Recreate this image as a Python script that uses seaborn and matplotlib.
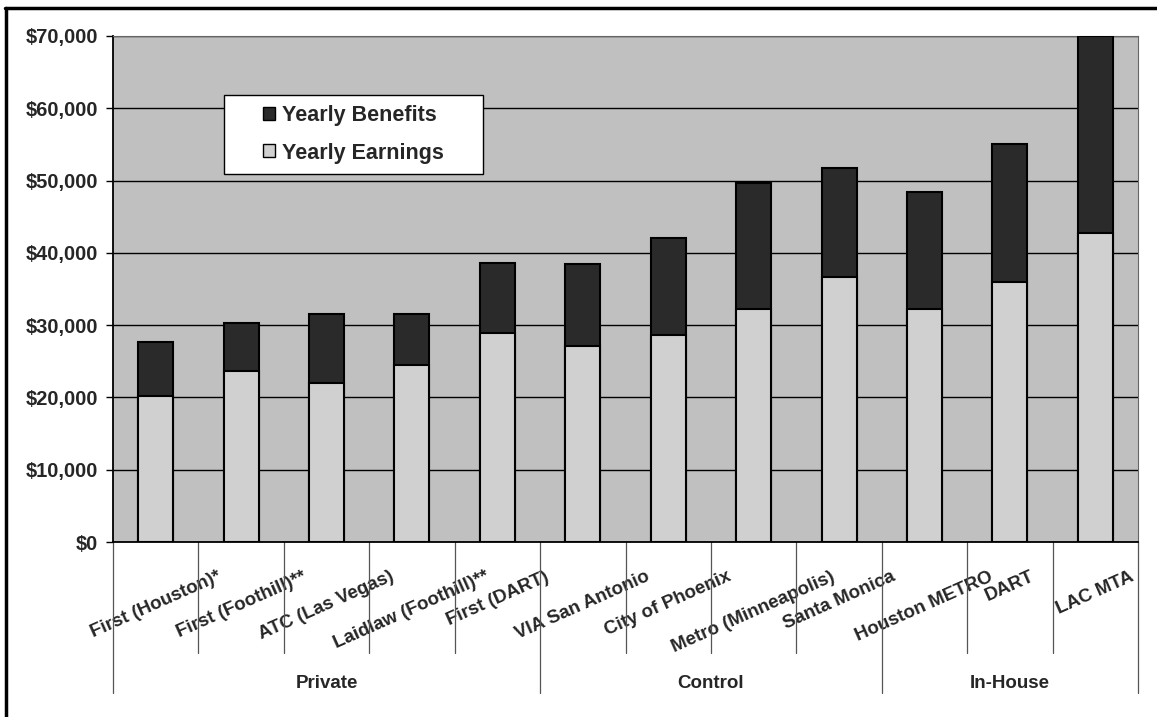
import numpy as np
import pandas as pd
import matplotlib
matplotlib.use("Agg")
import matplotlib.pyplot as plt
import seaborn as sns
from matplotlib.patches import Patch, Rectangle
from matplotlib.lines import Line2D
from matplotlib.ticker import FuncFormatter

# ---------------- data ----------------
categories = ["First (Houston)*", "First (Foothill)**", "ATC (Las Vegas)",
              "Laidlaw (Foothill)**", "First (DART)", "VIA San Antonio",
              "City of Phoenix", "Metro (Minneapolis)", "Santa Monica",
              "Houston METRO", "DART", "LAC MTA"]
yearly_earnings = [20200, 23600, 22000, 24500, 28900, 27100,
                   28600, 32200, 36600, 32200, 36000, 42800]
yearly_benefits = [7400, 6700, 9500, 7000, 9700, 11300,
                   13500, 17400, 15100, 16200, 19100, 27200]
groups = ["Private", "Control", "In-House"]
group_sizes = [5, 4, 3]
y_ticks = [0, 10000, 20000, 30000, 40000, 50000, 60000, 70000]

# ---------------- style ----------------
sns.set_style("white")
plt.rcParams["font.family"] = ["Liberation Sans", "DejaVu Sans"]
plt.rcParams["font.weight"] = "bold"

BG = "#c0c0c0"
DARK = "#2a2a2a"
LIGHT = "#d0d0d0"

df = pd.DataFrame({"category": categories,
                   "earnings": yearly_earnings,
                   "benefits": yearly_benefits})
df["total"] = df["earnings"] + df["benefits"]

W, H = 1157, 717
fig = plt.figure(figsize=(W / 100, H / 100), dpi=100)
ax = fig.add_axes([113 / W, 1 - 542 / H, (1138 - 113) / W, (542 - 36) / H])
ax.set_facecolor(BG)

sns.barplot(data=df, x="category", y="total", order=categories, color=DARK,
            saturation=1, edgecolor="black", linewidth=1.5, width=0.41,
            errorbar=None, ax=ax, zorder=3)
sns.barplot(data=df, x="category", y="earnings", order=categories, color=LIGHT,
            saturation=1, edgecolor="black", linewidth=1.5, width=0.41,
            errorbar=None, ax=ax, zorder=4)

ax.set_xlim(-0.5, len(categories) - 0.5)
ax.set_ylim(0, 70000)
ax.set_yticks(y_ticks)
ax.yaxis.set_major_formatter(FuncFormatter(lambda v, p: f"${v:,.0f}"))
ax.set_axisbelow(True)
ax.yaxis.grid(True, color="black", linewidth=1.0)
ax.xaxis.grid(False)
ax.set_xlabel("")
ax.set_ylabel("")

ax.tick_params(axis="y", left=True, length=5, width=1, color="black",
               pad=6, labelsize=14.5)
ax.tick_params(axis="x", bottom=False, length=0, pad=19, labelsize=13.5)
for lbl in ax.get_xticklabels():
    lbl.set_rotation(24)
    lbl.set_ha("center")
    lbl.set_va("top")
    lbl.set_rotation_mode("default")
for lbl in ax.get_yticklabels():
    lbl.set_fontweight("bold")

for s in ["left", "bottom"]:
    ax.spines[s].set_color("black")
    ax.spines[s].set_linewidth(1.3)
for s in ["top", "right"]:
    ax.spines[s].set_color("#666666")
    ax.spines[s].set_linewidth(0.8)

# category separators and group separators below axis
trans = ax.get_xaxis_transform()
edges = np.arange(len(categories) + 1) - 0.5
group_edges = np.cumsum([0] + group_sizes) - 0.5
for b in edges:
    low = -0.298 if b in group_edges else -0.219
    ax.plot([b, b], [0, low], transform=trans, clip_on=False,
            color="#555555", linewidth=0.9)
centers = (group_edges[:-1] + group_edges[1:]) / 2
for c, g in zip(centers, groups):
    ax.text(c, -0.279, g, transform=trans, ha="center", va="center",
            fontsize=13.5, fontweight="bold")

# legend with custom frame
fig.add_artist(Rectangle((224 / W, 1 - 174 / H), 259 / W, 79 / H,
                         transform=fig.transFigure, facecolor="white",
                         edgecolor="black", linewidth=1.0, zorder=4))
handles = [Patch(facecolor=DARK, edgecolor="black", label="Yearly Benefits"),
           Patch(facecolor=LIGHT, edgecolor="black", label="Yearly Earnings")]
leg = fig.legend(handles=handles, loc="center",
                 bbox_to_anchor=((224 + 483) / 2 / W, 1 - (95 + 174) / 2 / H),
                 frameon=False, prop={"size": 15.5, "weight": "bold"},
                 handlelength=0.55, handleheight=0.55, handletextpad=0.3,
                 labelspacing=0.75)
leg.set_zorder(5)

# outer frame (top and left)
fig.add_artist(Line2D([5 / W, 1], [1 - 7.5 / H, 1 - 7.5 / H],
                      transform=fig.transFigure, color="black", linewidth=2.5))
fig.add_artist(Line2D([6 / W, 6 / W], [0, 1 - 7.5 / H],
                      transform=fig.transFigure, color="black", linewidth=2.5))

fig.savefig("out.png", dpi=100)
